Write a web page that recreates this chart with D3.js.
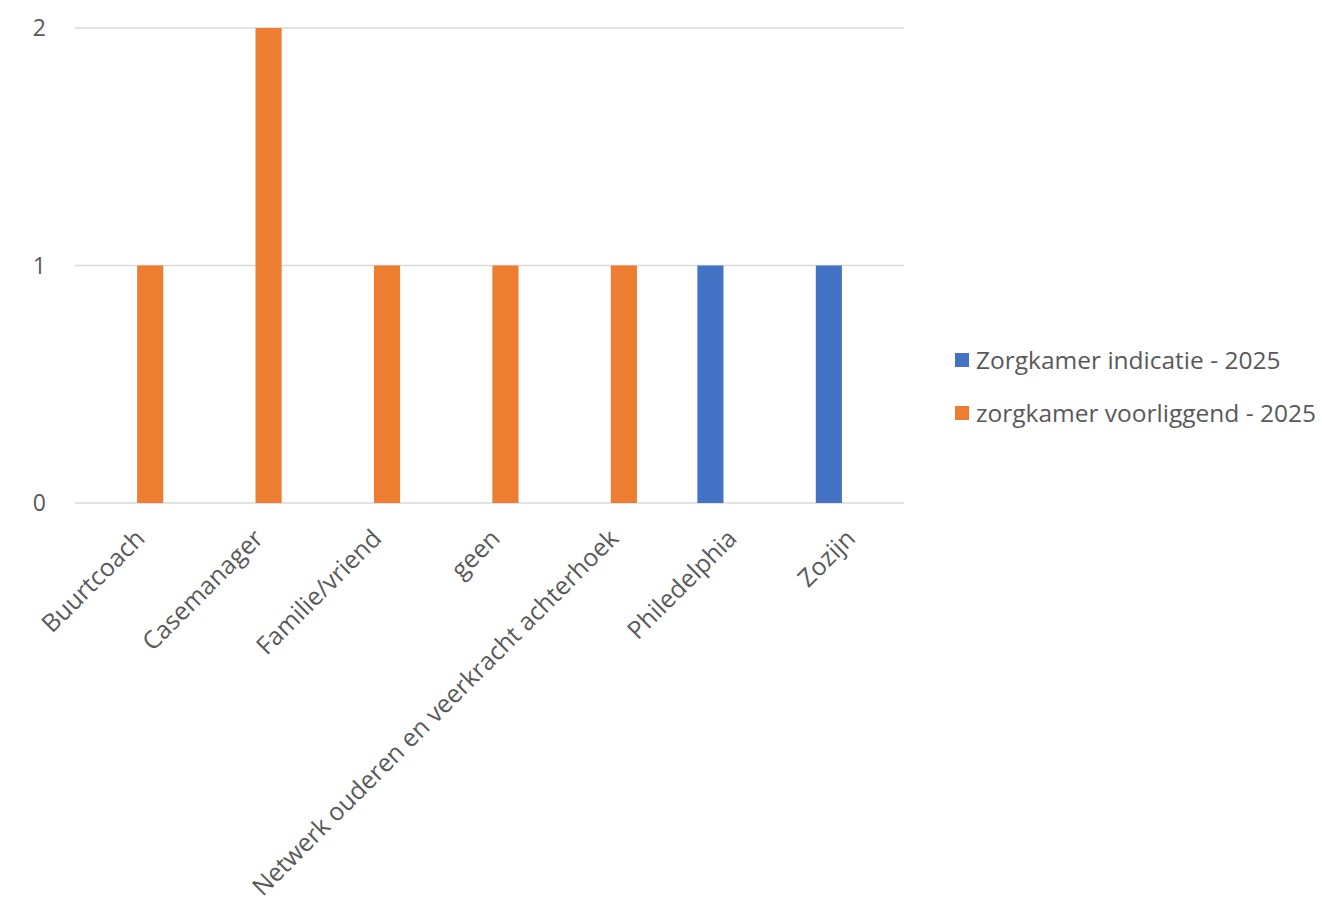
<!DOCTYPE html>
<html>
<head>
<meta charset="utf-8">
<script src="https://cdn.jsdelivr.net/npm/d3@7"></script>
<style>
  body { margin: 0; background: #fff; }
  text { font-family: "Open Sans", sans-serif; fill: #595959; }
</style>
</head>
<body>
<div id="chart"></div>
<script>
// data
const categories = ['Buurtcoach', 'Casemanager', 'Familie/vriend', 'geen',
    'Netwerk ouderen en veerkracht achterhoek', 'Philedelphia', 'Zozijn'];
const seriesNames = ['Zorgkamer indicatie - 2025', 'zorgkamer voorliggend - 2025'];
const indicatie = [0, 0, 0, 0, 0, 1, 1];
const voorliggend = [1, 2, 1, 1, 1, 0, 0];
const yTicks = [0, 1, 2];
const colors = ['#4472C4', '#ED7D31'];

const svgWidth = 1322;
const svgHeight = 904;
const margin = { top: 28, left: 75, right: 418, bottom: 401 };
const width = svgWidth - margin.left - margin.right;
const height = svgHeight - margin.top - margin.bottom;

const rows = categories.map((c, i) => ({ cat: c, values: [indicatie[i], voorliggend[i]] }));

const svg = d3.select('#chart')
    .append('svg')
    .attr('width', svgWidth)
    .attr('height', svgHeight)
    .append('g')
    .attr('transform', `translate(${margin.left},${margin.top})`);

const x0 = d3.scaleBand()
    .domain(categories)
    .range([0, width])
    .padding(0);

const x1 = d3.scaleBand()
    .domain([0, 1])
    .range([x0.bandwidth() / 2 - 29, x0.bandwidth() / 2 + 29])
    .paddingInner(0.18);

const y = d3.scaleLinear()
    .domain([0, 2])
    .range([height, 0]);

// gridlines
svg.append('g')
    .selectAll('line')
    .data(yTicks)
    .enter()
    .append('line')
    .attr('x1', 0)
    .attr('x2', width)
    .attr('y1', d => y(d))
    .attr('y2', d => y(d))
    .attr('stroke', '#d9d9d9')
    .attr('stroke-width', 1.5);

// y labels
svg.append('g')
    .selectAll('text')
    .data(yTicks)
    .enter()
    .append('text')
    .attr('x', -29)
    .attr('y', d => y(d))
    .attr('dy', '0.36em')
    .attr('text-anchor', 'end')
    .style('font-size', '23px')
    .text(d => d);

// bars
const groups = svg.selectAll('.grp')
    .data(rows)
    .enter()
    .append('g')
    .attr('class', 'grp')
    .attr('transform', d => `translate(${x0(d.cat)},0)`);

groups.selectAll('rect')
    .data(d => d.values.map((v, i) => ({ v, i })))
    .enter()
    .append('rect')
    .attr('x', d => x1(d.i))
    .attr('width', x1.bandwidth())
    .attr('y', d => y(d.v))
    .attr('height', d => height - y(d.v))
    .attr('fill', d => colors[d.i]);

// x labels, rotated
svg.append('g')
    .selectAll('text')
    .data(categories)
    .enter()
    .append('text')
    .attr('text-anchor', 'end')
    .attr('transform', d => `translate(${x0(d) + x0.bandwidth() / 2 + 12},${height + 37}) rotate(-45)`)
    .style('font-size', '24.8px')
    .text(d => d);

// legend
const legend = svg.append('g')
    .attr('transform', `translate(${880},${332})`);

seriesNames.forEach((name, i) => {
    const row = legend.append('g').attr('transform', `translate(0,${i * 53})`);
    row.append('rect')
        .attr('width', 14)
        .attr('height', 14)
        .attr('y', -7)
        .attr('fill', colors[i]);
    row.append('text')
        .attr('x', 21)
        .attr('dy', '0.36em')
        .style('font-size', '24.5px')
        .text(name);
});
</script>
</body>
</html>
